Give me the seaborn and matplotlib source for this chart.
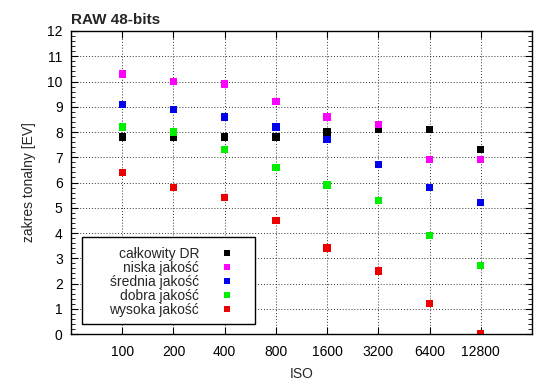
import matplotlib
matplotlib.use("Agg")
import matplotlib.pyplot as plt
import seaborn as sns
import pandas as pd
import numpy as np
from matplotlib.ticker import MultipleLocator
from matplotlib.patches import Rectangle

iso = ["100", "200", "400", "800", "1600", "3200", "6400", "12800"]
series_names = ["całkowity DR", "niska jakość", "średnia jakość", "dobra jakość", "wysoka jakość"]
calkowity = [7.8, 7.8, 7.8, 7.8, 8.0, 8.1, 8.1, 7.3]
niska = [10.3, 10.0, 9.9, 9.2, 8.6, 8.3, 6.9, 6.9]
srednia = [9.1, 8.9, 8.6, 8.2, 7.7, 6.7, 5.8, 5.2]
dobra = [8.2, 8.0, 7.3, 6.6, 5.9, 5.3, 3.9, 2.7]
wysoka = [6.4, 5.8, 5.4, 4.5, 3.4, 2.5, 1.2, 0.0]
colors = ["#000000", "#ff00ff", "#0000ee", "#00ee00", "#ee0000"]

values = [calkowity, niska, srednia, dobra, wysoka]
df = pd.DataFrame({
    "ISO": iso * len(series_names),
    "EV": sum(values, []),
    "series": np.repeat(series_names, len(iso)),
})

sns.set_style("white")
plt.rcParams["font.family"] = ["Liberation Sans", "DejaVu Sans"]

fig, ax = plt.subplots(figsize=(5.5, 3.89), dpi=100)
fig.subplots_adjust(left=71/550, right=532/550, top=1-31/389, bottom=1-334/389)

sns.scatterplot(data=df, x="ISO", y="EV", hue="series", hue_order=series_names,
                palette=colors, marker="s", s=28, linewidth=0, ax=ax, legend=True)

ax.set_xlim(-1, 8)
ax.set_ylim(0, 12)
ax.yaxis.set_major_locator(MultipleLocator(1))
ax.yaxis.set_minor_locator(MultipleLocator(0.2))
ax.grid(True, which="major", color="#333333", linestyle=(0, (1, 2)), linewidth=0.7)
ax.set_axisbelow(True)
for sp in ax.spines.values():
    sp.set_color("black")
    sp.set_linewidth(1.0)
ax.tick_params(axis="both", which="both", direction="in", top=True, right=True,
               left=True, bottom=True, colors="black", labelsize=10)
ax.tick_params(axis="both", which="major", length=5, width=0.8)
ax.tick_params(axis="y", which="minor", length=3, width=0.6)
ax.tick_params(axis="x", which="major", pad=8)
ax.tick_params(axis="y", which="major", pad=6)

ax.set_xlabel("ISO", fontsize=10, labelpad=6)
ax.set_ylabel("zakres tonalny [EV]", fontsize=10, labelpad=8)
ax.set_title("RAW 48-bits", loc="left", fontweight="bold", fontsize=11, pad=5)

# legend frame (gnuplot style box)
frame = Rectangle((0.0239, 0.033), 0.375, 0.287, transform=ax.transAxes,
                  facecolor="white", edgecolor="black", linewidth=1.0, zorder=4)
ax.add_patch(frame)

handles, labels = ax.get_legend_handles_labels()
leg = ax.legend(handles, labels, loc="upper right", bbox_to_anchor=(0.350, 0.287),
                borderaxespad=0, borderpad=0, markerfirst=False, frameon=False,
                fontsize=10, labelspacing=0.0, handlelength=0.8,
                handletextpad=1.6, markerscale=0.8)
leg.set_zorder(6)

fig.savefig("out.png", dpi=100)
